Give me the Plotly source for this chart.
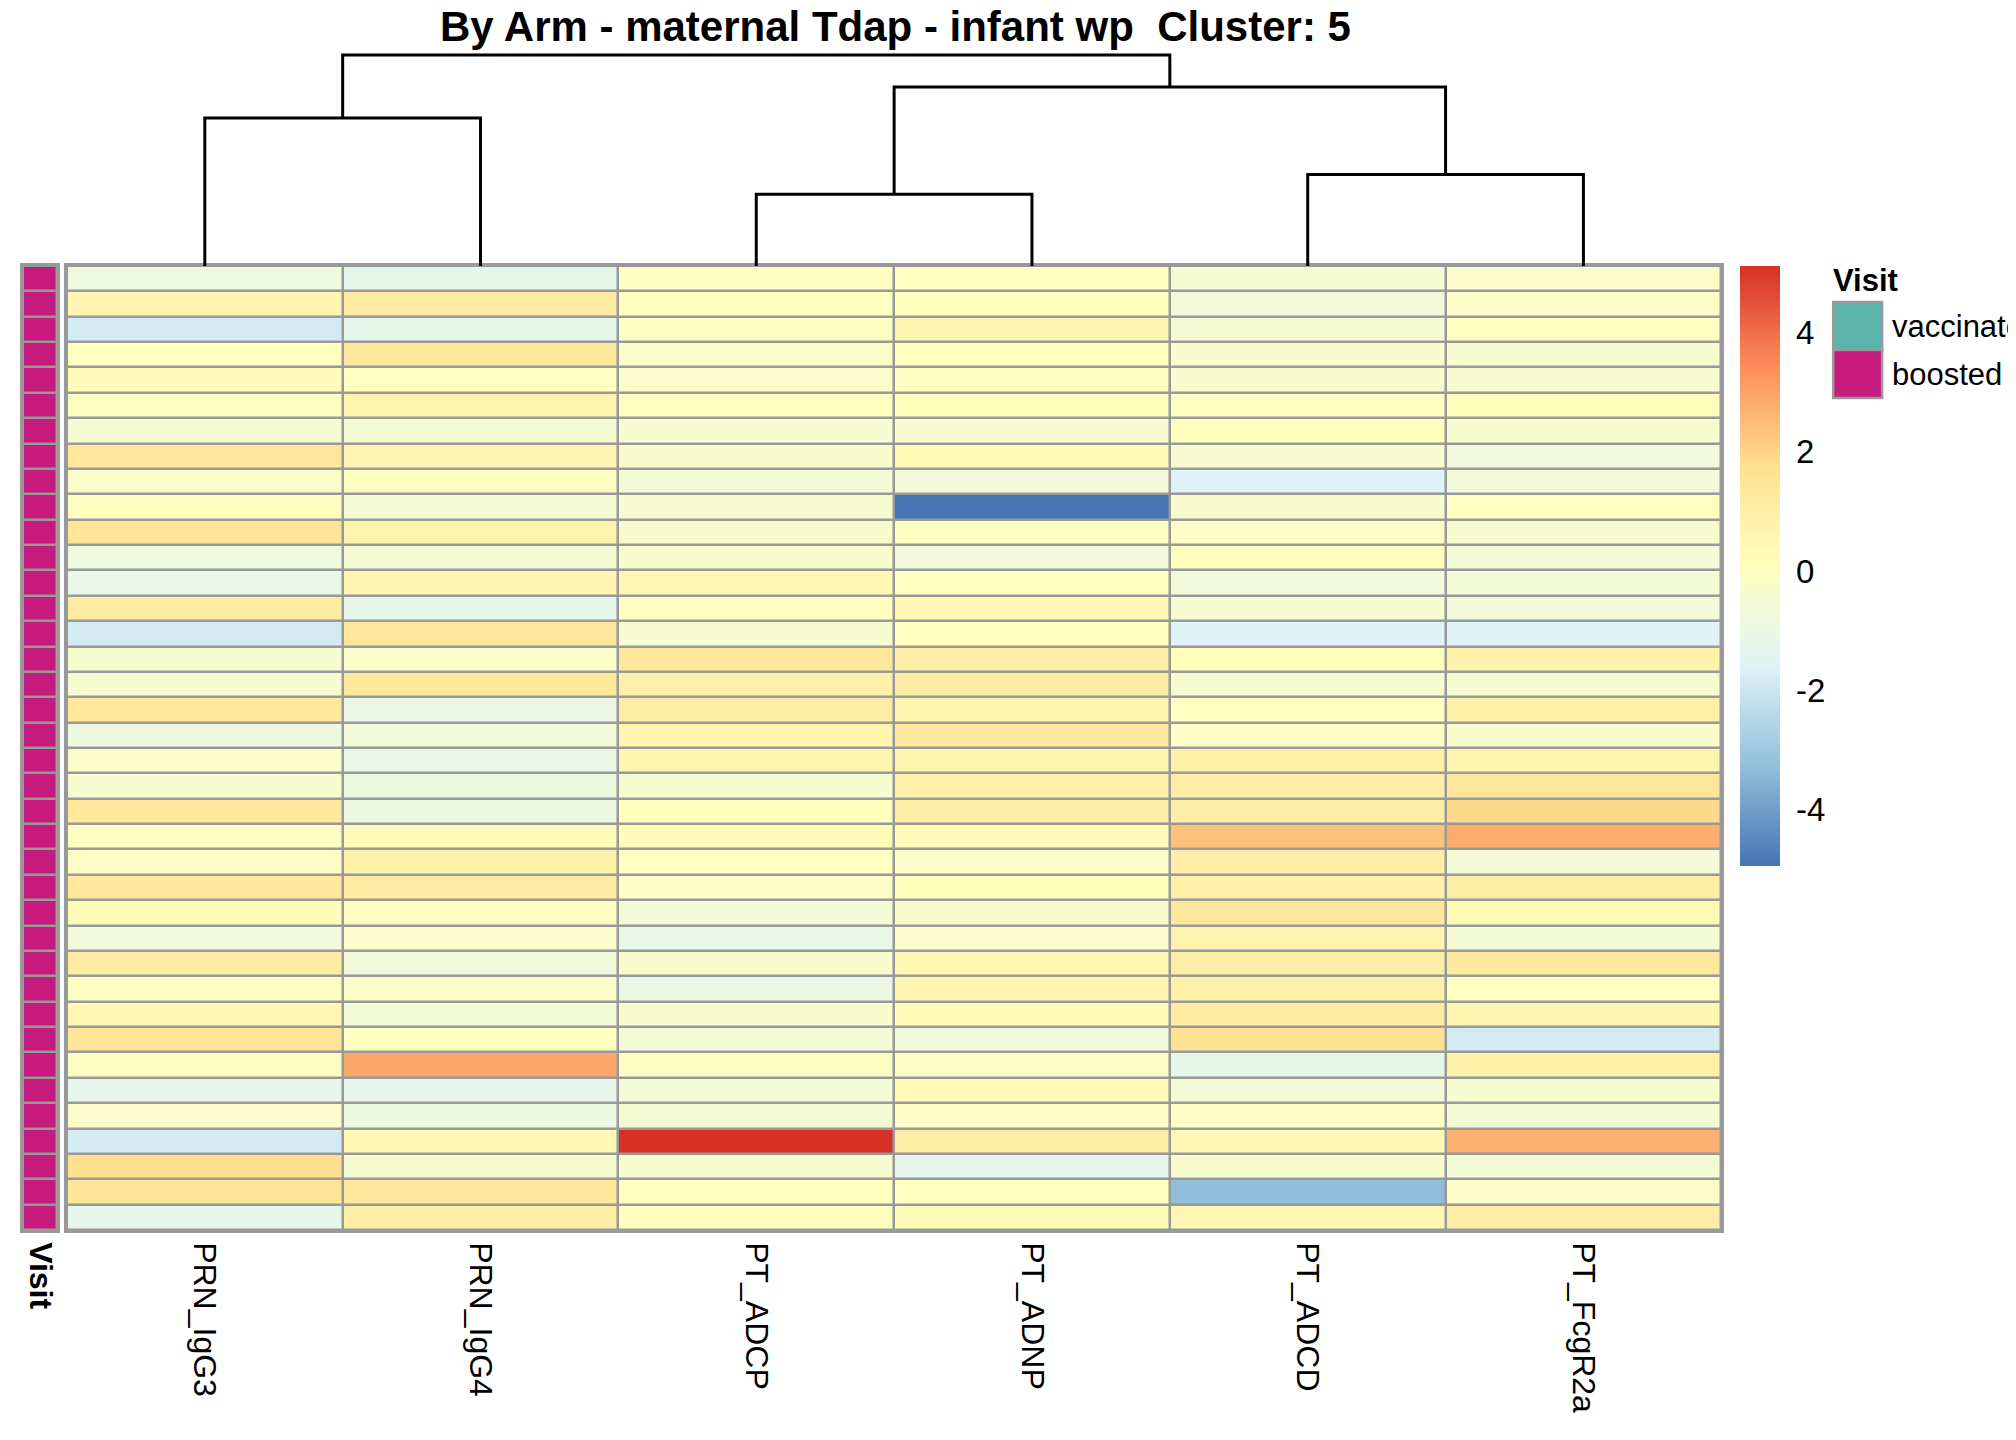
import plotly.graph_objects as go

W, H = 2016, 1440

features = ["PRN_IgG3", "PRN_IgG4", "PT_ADCP", "PT_ADNP", "PT_ADCD", "PT_FcgR2a"]

# scaled values, one list per feature (top row first)
prn_igg3 = [-0.8, 0.6, -1.85, 0.1, 0.3, 0.0, -0.5, 1.4, -0.2, 0.0, 1.5, -0.8, -1.1, 1.1, -1.85,
            -0.4, -0.4, 1.3, -0.9, -0.2, -0.4, 1.3, 0.0, -0.1, 1.3, 0.3, -0.7, 1.1, 0.0, 0.5,
            1.5, 0.0, -1.2, -0.2, -1.85, 1.75, 1.45, -1.2]
prn_igg4 = [-1.2, 1.2, -1.2, 1.3, 0.1, 0.7, -0.5, 0.6, 0.0, -0.5, 0.7, -0.5, 0.6, -1.2, 1.4,
            -0.2, 1.3, -1.0, -0.7, -1.1, -0.9, -0.9, 0.3, 0.9, 1.2, 0.0, -0.2, -0.7, -0.2, -0.6,
            0.1, 2.9, -1.2, -0.9, 0.5, -0.4, 1.3, 1.0]
pt_adcp = [0.0, 0.1, 0.0, -0.2, -0.2, 0.1, -0.4, -0.3, -0.6, -0.4, -0.3, -0.3, 0.5, 0.1, -0.4,
           1.4, 0.9, 1.0, 0.6, 0.6, -0.4, 0.15, 0.3, 0.1, -0.1, -0.6, -1.1, -0.3, -1.0, -0.3,
           -0.6, 0.0, -0.6, -0.5, 5.12, -0.4, 0.1, 0.15]
pt_adnp = [0.1, 0.15, 0.6, 0.1, 0.0, 0.15, -0.4, 0.4, -0.7, -4.95, 0.0, -0.7, 0.1, 0.5, 0.05,
           1.0, 1.1, 0.7, 1.25, 0.7, 0.9, 1.05, 0.3, -0.2, 0.15, -0.3, -0.2, 0.5, 0.6, 0.25,
           -0.7, -0.1, 0.4, -0.1, 1.0, -1.3, 0.1, 0.25]
pt_adcd = [-0.5, -0.7, -0.5, -0.3, -0.3, 0.05, 0.2, -0.4, -1.6, -0.3, -0.1, 0.15, -0.7, -0.4, -1.6,
           0.2, -0.4, 0.1, -0.1, 0.9, 1.0, 1.05, 2.4, 1.0, 0.9, 1.4, 0.7, 1.0, 0.9, 1.1,
           1.7, -1.2, -0.6, -0.1, 0.5, -0.3, -3.3, 0.5]
pt_fcgr2a = [-0.2, -0.2, 0.05, -0.4, -0.4, 0.2, -0.4, -0.7, -0.7, 0.1, -0.4, -0.6, -0.6, -0.7, -1.6,
             0.8, -0.4, 0.9, -0.3, 0.7, 1.4, 1.9, 2.8, -0.6, 1.0, 0.4, -0.6, 1.25, 0.1, 0.6,
             -1.85, 0.9, -0.4, -0.5, 2.7, -0.6, -0.2, 1.0]

visit = ["boosted"] * 38
visit_levels = ["vaccinated", "boosted"]
visit_colors = {"vaccinated": "#5AB4AC", "boosted": "#C71A7D"}

# column clustering: (left, right, height, new node)
merges = [
    ("PT_ADCP", "PT_ADNP", 3.27, "m1"),
    ("PT_ADCD", "PT_FcgR2a", 4.16, "m2"),
    ("PRN_IgG3", "PRN_IgG4", 6.73, "m3"),
    ("m1", "m2", 8.14, "m4"),
    ("m3", "m4", 9.60, "m5"),
]

palette = ["#4575B4", "#91BFDB", "#E0F3F8", "#FFFFBF", "#FEE090", "#FC8D59", "#D73027"]
zmin, zmax = -4.95, 5.12
cb_ticks = [-4, -2, 0, 2, 4]

font = "Arial, Liberation Sans, sans-serif"
grid = "#999999"
OFF = 8  # page body margin of the browser


def px(p):
    return (p - OFF) / W


def py(p):
    return 1 - (p - OFF) / H


cols = [prn_igg3, prn_igg4, pt_adcp, pt_adnp, pt_adcd, pt_fcgr2a]
n_rows = len(prn_igg3)
rows = list(range(1, n_rows + 1))
z = [[c[i] for c in cols] for i in range(n_rows)]

fig = go.Figure()

fig.add_trace(go.Heatmap(
    x=list(range(len(features))), y=rows, z=z,
    zmin=zmin, zmax=zmax,
    colorscale=[[i / (len(palette) - 1), c] for i, c in enumerate(palette)],
    xgap=2.5, ygap=2.5,
    colorbar=dict(thickness=40, thicknessmode="pixels", len=600, lenmode="pixels",
                  x=px(1742), xanchor="left", xpad=0, y=py(266), yanchor="top", ypad=0,
                  tickvals=cb_ticks, ticktext=[str(t) for t in cb_ticks],
                  ticks="outside", ticklen=10,
                  tickcolor="rgba(0,0,0,0)", outlinewidth=0,
                  tickfont=dict(size=33, color="black", family=font)),
    xaxis="x", yaxis="y", hoverinfo="skip",
))

# annotation strip
codes = [visit_levels.index(v) for v in visit]
c0, c1 = visit_colors["vaccinated"], visit_colors["boosted"]
fig.add_trace(go.Heatmap(
    x=[0], y=rows, z=[[c] for c in codes], zmin=0, zmax=1,
    colorscale=[[0, c0], [0.5, c0], [0.5, c1], [1, c1]],
    showscale=False, xgap=2.5, ygap=2.5, xaxis="x3", yaxis="y3", hoverinfo="skip",
))

# dendrogram
nodes = {f: (i, 0.0) for i, f in enumerate(features)}
dx, dy = [], []
for a, b, h, name in merges:
    xa, ha = nodes[a]
    xb, hb = nodes[b]
    dx += [xa, xa, xb, xb, None]
    dy += [ha, h, h, hb, None]
    nodes[name] = ((xa + xb) / 2, h)
root_h = merges[-1][2]

fig.add_trace(go.Scatter(
    x=dx, y=dy, mode="lines", line=dict(color="black", width=3),
    xaxis="x2", yaxis="y2", hoverinfo="skip", showlegend=False,
))

hm_x = [px(67), px(1723)]
hm_y = [py(1230), py(266)]
axis_line = dict(showline=True, mirror=True, linecolor=grid, linewidth=2.5,
                 showgrid=False, zeroline=False)

fig.update_layout(
    width=W, height=H,
    margin=dict(l=0, r=0, t=0, b=0),
    paper_bgcolor="white", plot_bgcolor=grid,
    font=dict(family=font, color="black"),
    showlegend=False,
    xaxis=dict(domain=hm_x, range=[-0.5, len(features) - 0.5], anchor="y",
               tickvals=list(range(len(features))), ticktext=features, tickangle=90,
               ticks="outside", ticklen=3, tickcolor="rgba(0,0,0,0)",
               tickfont=dict(size=32), **axis_line),
    yaxis=dict(domain=hm_y, range=[n_rows + 0.5, 0.5], anchor="x",
               showticklabels=False, ticks="", **axis_line),
    xaxis2=dict(domain=hm_x, range=[-0.5, len(features) - 0.5], anchor="y2", visible=False),
    yaxis2=dict(domain=[py(266), py(52)], range=[0, root_h * (266 - 52) / (266 - 55)],
                anchor="x2", visible=False),
    xaxis3=dict(domain=[px(23), px(57)], range=[-0.5, 0.5], anchor="y3",
                tickvals=[0], ticktext=["<b>Visit</b>"], tickangle=90,
                ticks="outside", ticklen=3, tickcolor="rgba(0,0,0,0)",
                tickfont=dict(size=32), **axis_line),
    yaxis3=dict(domain=hm_y, range=[n_rows + 0.5, 0.5], anchor="x3",
                showticklabels=False, ticks="", **axis_line),
)

# white backdrop behind dendrogram (plot bg is grey for the cell borders)
fig.add_shape(type="rect", xref="x2 domain", yref="y2 domain", x0=-0.01, x1=1.01, y0=0, y1=1,
              fillcolor="white", line=dict(width=0), layer="below")

# title
fig.add_annotation(text="<b>By Arm - maternal Tdap - infant wp\u00a0 Cluster: 5</b>",
                   xref="paper", yref="paper", x=px(896), y=py(27),
                   xanchor="center", yanchor="middle", showarrow=False,
                   font=dict(size=42))

# Visit legend
fig.add_annotation(text="<b>Visit</b>", xref="paper", yref="paper", x=px(1833), y=py(280),
                   xanchor="left", yanchor="middle", showarrow=False, font=dict(size=31))
top = 302
for lvl in visit_levels:
    fig.add_shape(type="rect", xref="paper", yref="paper",
                  x0=px(1835), x1=px(1884), y0=py(top + 48), y1=py(top),
                  fillcolor=visit_colors[lvl], line=dict(color=grid, width=2.5))
    fig.add_annotation(text=lvl, xref="paper", yref="paper", x=px(1892), y=py(top + 24),
                       xanchor="left", yanchor="middle", showarrow=False, font=dict(size=31))
    top += 48

fig.write_html("out.html")
